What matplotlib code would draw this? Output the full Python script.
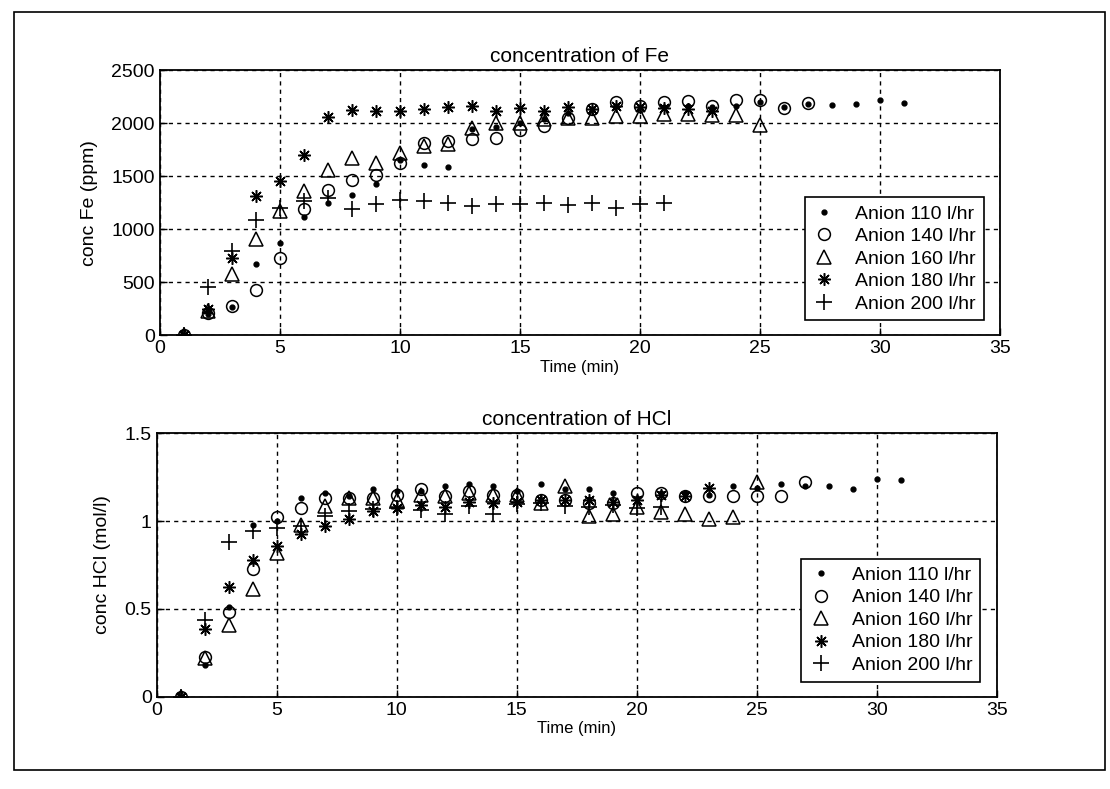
import numpy as np
import matplotlib
matplotlib.use("Agg")
import matplotlib.pyplot as plt
from matplotlib.patches import Rectangle
from matplotlib import font_manager

# --- data ---
labels = ["Anion 110 l/hr", "Anion 140 l/hr", "Anion 160 l/hr",
          "Anion 180 l/hr", "Anion 200 l/hr"]

fe_110 = [0, 200, 270, 672, 866, 1116, 1250, 1322, 1428, 1656, 1610, 1589, 1943,
          1960, 2006, 2038, 2101, 2133, 2164, 2150, 2150, 2160, 2150, 2160, 2200,
          2150, 2180, 2170, 2180, 2215, 2195]
fe_140 = [0, 210, 272, 431, 728, 1187, 1366, 1462, 1515, 1625, 1812, 1832, 1848,
          1864, 1937, 1975, 2054, 2133, 2196, 2164, 2196, 2210, 2160, 2220, 2220,
          2140, 2190]
fe_160 = [0, 230, 578, 906, 1172, 1360, 1562, 1672, 1625, 1718, 1790, 1800, 1959,
          2006, 2006, 2038, 2054, 2054, 2070, 2070, 2085, 2090, 2080, 2080, 1980]
fe_180 = [0, 250, 725, 1312, 1453, 1697, 2062, 2125, 2120, 2115, 2130, 2150, 2160,
          2120, 2140, 2120, 2150, 2130, 2160, 2150, 2140, 2130, 2120]
fe_200 = [0, 453, 797, 1084, 1203, 1265, 1297, 1187, 1234, 1272, 1265, 1248, 1216,
          1242, 1242, 1248, 1232, 1248, 1200, 1242, 1248]

hcl_110 = [0, 0.18, 0.51, 0.98, 1.0, 1.13, 1.16, 1.14, 1.18, 1.17, 1.17, 1.2, 1.21,
           1.2, 1.17, 1.21, 1.18, 1.18, 1.16, 1.13, 1.16, 1.16, 1.15, 1.2, 1.19,
           1.21, 1.2, 1.2, 1.18, 1.24, 1.235]
hcl_140 = [0, 0.226, 0.48, 0.726, 1.02, 1.075, 1.13, 1.13, 1.13, 1.15, 1.18, 1.14,
           1.17, 1.15, 1.15, 1.12, 1.12, 1.10, 1.10, 1.16, 1.16, 1.14, 1.14, 1.14,
           1.14, 1.14, 1.22]
hcl_160 = [0, 0.22, 0.406, 0.613, 0.82, 0.98, 1.085, 1.13, 1.13, 1.12, 1.15, 1.14,
           1.16, 1.15, 1.15, 1.1, 1.2, 1.03, 1.04, 1.08, 1.05, 1.04, 1.01, 1.02, 1.22]
hcl_180 = [0, 0.387, 0.623, 0.78, 0.858, 0.925, 0.97, 1.01, 1.057, 1.075, 1.09,
           1.08, 1.11, 1.1, 1.11, 1.12, 1.12, 1.12, 1.11, 1.12, 1.15, 1.14, 1.19]
hcl_200 = [0, 0.438, 0.883, 0.943, 0.96, 0.97, 1.03, 1.057, 1.066, 1.075, 1.06,
           1.04, 1.085, 1.04, 1.094, 1.1, 1.085, 1.08, 1.09, 1.075, 1.08]

fe_series = [fe_110, fe_140, fe_160, fe_180, fe_200]
hcl_series = [hcl_110, hcl_140, hcl_160, hcl_180, hcl_200]

# matlab-ish markers: . o ^ * +
markers = [dict(marker="o", ms=3.5, mfc="k", mec="k"),
           dict(marker="o", ms=8.5, mfc="none", mec="k", mew=1.1),
           dict(marker="^", ms=9.5, mfc="none", mec="k", mew=1.1),
           dict(marker=(8, 2, 0), ms=9, mfc="k", mec="k", mew=1.1),
           dict(marker="+", ms=12, mfc="k", mec="k", mew=1.2)]

names = {f.name for f in font_manager.fontManager.ttflist}
narrow = "Liberation Sans Narrow" if "Liberation Sans Narrow" in names else "DejaVu Sans"
sans = "Liberation Sans" if "Liberation Sans" in names else "DejaVu Sans"
if narrow == "DejaVu Sans":
    narrow = sans

fig = plt.figure(figsize=(11.1, 7.89), dpi=100)
fig.patches.append(Rectangle((14 / 1110, 1 - 770 / 789), 1091 / 1110, 758 / 789,
                             transform=fig.transFigure, fill=False, ec="k", lw=1.2))

ax1 = fig.add_axes([0.144, 0.575, 0.757, 0.336])
ax2 = fig.add_axes([0.141, 0.117, 0.757, 0.334])


def draw(ax, series, ylim, yticks, ylabel, title):
    for vals, mk, lab in zip(series, markers, labels):
        t = np.arange(1, len(vals) + 1)
        ax.plot(t, vals, ls="none", color="k", label=lab, **mk)
    ax.set_xlim(0, 35)
    ax.set_ylim(*ylim)
    ax.set_xticks([0, 5, 10, 15, 20, 25, 30, 35])
    ax.set_yticks(yticks)
    ax.grid(True, color="k", ls=(0, (3, 3)), lw=1)
    ax.tick_params(direction="in", length=5, width=1, labelsize=14)
    for lab in ax.get_xticklabels() + ax.get_yticklabels():
        lab.set_fontfamily(narrow)
    for s in ax.spines.values():
        s.set_linewidth(1.3)
    ax.set_xlabel("Time (min)", fontsize=12, fontfamily=sans, labelpad=2)
    ax.set_ylabel(ylabel, fontsize=14, fontfamily=sans, labelpad=10)
    ax.set_title(title, fontsize=15, fontfamily=sans, pad=6)
    leg = ax.legend(loc="lower right", bbox_to_anchor=(0.992, 0.02), frameon=True,
                    fancybox=False, edgecolor="k", framealpha=1,
                    prop={"family": narrow, "size": 14}, handlelength=1.2,
                    labelspacing=0.25, borderpad=0.4, handletextpad=1.0)
    leg.get_frame().set_linewidth(1.2)


draw(ax1, fe_series, (0, 2500), [0, 500, 1000, 1500, 2000, 2500],
     "conc Fe (ppm)", "concentration of Fe")
draw(ax2, hcl_series, (0, 1.5), [0, 0.5, 1, 1.5],
     "conc HCl (mol/l)", "concentration of HCl")
ax2.set_yticklabels(["0", "0.5", "1", "1.5"])
for lab in ax2.get_yticklabels():
    lab.set_fontfamily(narrow)

fig.savefig("out.png", dpi=100)
